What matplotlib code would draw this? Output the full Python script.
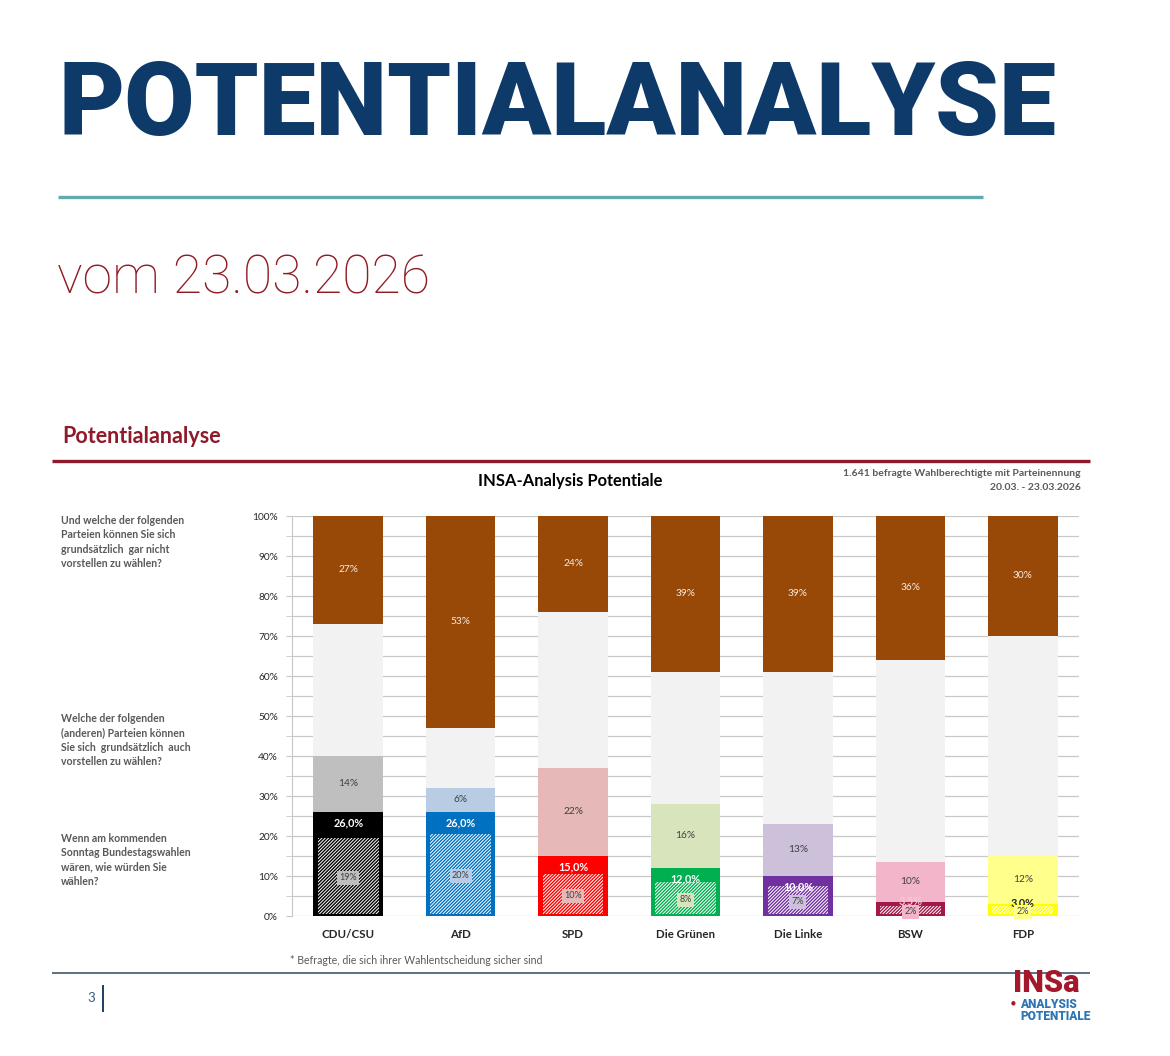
import matplotlib
matplotlib.use("Agg")
import matplotlib.pyplot as plt
from matplotlib.lines import Line2D
from matplotlib import font_manager as fm
import numpy as np

# data
parties = ["CDU/CSU", "AfD", "SPD", "Die Grünen", "Die Linke", "BSW", "FDP"]
vote = [26.0, 26.0, 15.0, 12.0, 10.0, 3.5, 3.0]       # Sonntagsfrage
sure = [19, 20, 10, 8, 7, 2, 2]                        # sichere Wähler (*)
potential = [14, 6, 22, 16, 13, 10, 12]                # zusätzlich vorstellbar
reject = [27, 53, 24, 39, 39, 36, 30]                  # gar nicht vorstellbar
yticks = [0, 10, 20, 30, 40, 50, 60, 70, 80, 90, 100]

vote_colors = ["#000000", "#0070c0", "#ff0000", "#00b050", "#7030a0", "#a3184a", "#ffff00"]
pot_colors = ["#bfbfbf", "#b8cce4", "#e6b8b7", "#d8e4bc", "#ccc0da", "#f3b5c9", "#ffff8c"]
vote_text = ["white", "white", "white", "white", "white", "#f6c9d8", "#262626"]
REST = "#f2f2f2"
BROWN = "#984807"
GREY = "#595959"

W, H = 1170, 1056
plt.rcParams["hatch.linewidth"] = 0.7
fig = plt.figure(figsize=(W / 100, H / 100), dpi=100)
renderer = fig.canvas.get_renderer()


def heaviest_font():
    # pick the boldest upright face among the installed sans families
    prefs = ["Open Sans", "Roboto", "Inter", "Lato", "Noto Sans", "Liberation Sans", "DejaVu Sans"]
    best = None
    for f in fm.fontManager.ttflist:
        if f.name not in prefs or f.style != "normal":
            continue
        w = f.weight if isinstance(f.weight, (int, float)) else fm.weight_dict.get(f.weight, 400)
        if "condensed" in str(f.stretch).lower():
            continue
        key = (w, -prefs.index(f.name))
        if best is None or key > best[0]:
            best = (key, f.fname)
    return fm.FontProperties(fname=best[1]) if best else fm.FontProperties(weight="bold")


HEAVY = heaviest_font()


def fx(x):
    return x / W


def fy(y):
    return 1 - y / H


def hline(x0, x1, y, color, lw):
    fig.add_artist(Line2D([fx(x0), fx(x1)], [fy(y), fy(y)], color=color, lw=lw,
                          transform=fig.transFigure, solid_capstyle="butt"))


def fit_width(t, width_px):
    bb = t.get_window_extent(renderer)
    t.set_fontsize(t.get_fontsize() * width_px / bb.width)


# slide header
title = fig.text(fx(58), fy(135), "POTENTIALANALYSE", fontproperties=HEAVY,
                 fontsize=72, color="#0e3a6a", va="baseline")
fit_width(title, 997)
hline(58, 983, 197, "#62aab0", 2.4)
fig.text(fx(57), fy(293), "vom 23.03.2026", family="Roboto", weight="light",
         fontsize=38.5, color="#8e1b22", va="baseline")

fig.text(fx(62), fy(443), "Potentialanalyse", family="Lato", weight="bold",
         fontsize=15.5, color="#8e1b2b", va="baseline")
hline(52, 1090, 461, "#8e1b2b", 2.4)

fig.text(fx(570), fy(481), "INSA-Analysis Potentiale", family="Lato", weight="bold",
         fontsize=11.9, color="black", ha="center", va="center")
fig.text(fx(1081), fy(473), "1.641 befragte Wahlberechtigte mit Parteinennung",
         family="Lato", weight="bold", fontsize=7.5, color=GREY, ha="right", va="center")
fig.text(fx(1081), fy(487), "20.03. - 23.03.2026",
         family="Lato", weight="bold", fontsize=7.5, color=GREY, ha="right", va="center")

questions = [
    (522, "Und welche der folgenden\nParteien können Sie sich\ngrundsätzlich  gar nicht\nvorstellen zu wählen?"),
    (720, "Welche der folgenden\n(anderen) Parteien können\nSie sich  grundsätzlich  auch\nvorstellen zu wählen?"),
    (840, "Wenn am kommenden\nSonntag Bundestagswahlen\nwären, wie würden Sie\nwählen?"),
]
for y, txt in questions:
    fig.text(fx(61), fy(y - 7), txt, family="Lato", weight="bold", fontsize=7.6,
             color=GREY, va="top", linespacing=1.38)

# chart
ax = fig.add_axes([fx(292), fy(916), (1079 - 292) / W, 400 / H])
x = np.arange(len(parties))
vote_a = np.array(vote)
pot_a = np.array(potential)
rej_a = np.array(reject)
rest = 100 - vote_a - pot_a - rej_a
bw = 0.62

ax.bar(x, vote_a, bw, color=vote_colors, zorder=2)
ax.bar(x, pot_a, bw, bottom=vote_a, color=pot_colors, zorder=2)
ax.bar(x, rest, bw, bottom=vote_a + pot_a, color=REST, zorder=2)
ax.bar(x, rej_a, bw, bottom=100 - rej_a, color=BROWN, zorder=2)
ax.bar(x, sure, 0.54, bottom=0.6, color=vote_colors, edgecolor="white",
       hatch="//////////", lw=0, zorder=3)

for i in range(len(parties)):
    v = vote[i]
    ax.text(i, v - 2.7 if v > 5 else v + 0.3, f"{v:.1f}%".replace(".", ","),
            ha="center", va="center", fontsize=7.8, weight="bold",
            color=vote_text[i], family="Lato", zorder=5)
    ax.text(i, v + potential[i] / 2, f"{potential[i]}%", ha="center", va="center",
            fontsize=7.3, color="#404040", family="Lato", zorder=5)
    ax.text(i, 100 - reject[i] / 2, f"{reject[i]}%", ha="center", va="center",
            fontsize=7.3, color="#f4ece4", family="Lato", zorder=5)
    ax.text(i, max(sure[i] / 2, 1), f"{sure[i]}%", ha="center", va="center",
            fontsize=6.5, color="#404040", family="Lato", zorder=6,
            bbox=dict(boxstyle="square,pad=0.25", fc=pot_colors[i], ec="none"))

ax.set_xlim(-0.5, len(parties) - 0.5)
ax.set_ylim(0, 100)
ax.set_yticks(yticks)
ax.set_yticklabels([f"{t}%" for t in yticks], family="Lato", fontsize=7.3, color="#262626")
ax.set_yticks(np.arange(5, 100, 10), minor=True)
ax.grid(axis="y", which="both", color="#c8c8c8", lw=0.9, zorder=0)
ax.set_xticks(x)
ax.set_xticklabels(parties, family="Lato", weight="bold", fontsize=8.3, color="#262626")
ax.tick_params(axis="x", length=0, pad=9)
ax.tick_params(axis="y", which="both", length=4, color="#c8c8c8", pad=6)
for s in ["top", "right", "bottom"]:
    ax.spines[s].set_visible(False)
ax.spines["left"].set_color("#c8c8c8")
ax.set_axisbelow(True)

fig.text(fx(290), fy(961), "* Befragte, die sich ihrer Wahlentscheidung sicher sind",
         family="Lato", fontsize=7.6, color=GREY, va="center")

# footer
hline(52, 1090, 973, "#4d6577", 1.3)
fig.text(fx(95), fy(998), "3", family="Lato", fontsize=9.5, color="#3b5a80",
         ha="right", va="center")
fig.add_artist(Line2D([fx(103), fx(103)], [fy(986), fy(1011)], color="#1f3d60", lw=1.4,
                      transform=fig.transFigure))
logo = fig.text(fx(1013), fy(998), "INSa", fontproperties=HEAVY, fontsize=16,
                color="#a3182b", ha="left", va="bottom")
fit_width(logo, 67)
sub = fig.text(fx(1020), fy(998), "ANALYSIS\nPOTENTIALE", fontproperties=HEAVY,
               fontsize=7, color="#2e75b6", ha="left", va="top", linespacing=0.95)
fit_width(sub, 70)
fig.text(fx(1015), fy(1003), "●", fontsize=4, color="#a3182b", ha="right", va="center")

fig.savefig("out.png", dpi=100)
